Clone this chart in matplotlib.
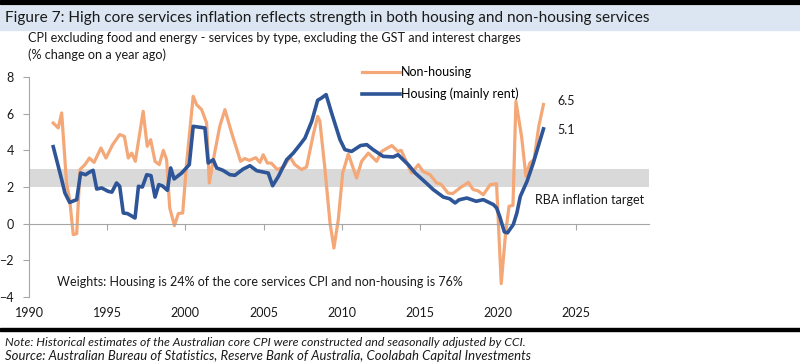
import matplotlib
matplotlib.use("Agg")
import matplotlib.pyplot as plt
from matplotlib.patches import Rectangle

plt.rcParams["font.family"] = ["Lato", "DejaVu Sans"]

# ---- data (year, % change on a year ago)
nonhousing_year = [1991.55, 1991.87, 1992.09, 1992.4, 1992.6, 1992.83, 1993.05, 1993.26,
                   1993.58, 1993.86, 1994.16, 1994.6, 1994.92, 1995.35, 1995.8, 1996.1,
                   1996.35, 1996.57, 1996.8, 1997.3, 1997.56, 1997.78, 1998.06, 1998.33,
                   1998.59, 1998.8, 1999.0, 1999.3, 1999.55, 1999.83, 2000.08, 2000.5,
                   2000.72, 2001.04, 2001.36, 2001.53, 2001.83, 2002.2, 2002.53, 2002.96,
                   2003.53, 2003.8, 2004.09, 2004.5, 2004.77, 2004.98, 2005.24, 2005.5,
                   2005.88, 2006.3, 2006.69, 2007.0, 2007.43, 2007.75, 2008.18, 2008.46,
                   2008.6, 2008.93, 2009.25, 2009.5, 2009.78, 2010.06, 2010.42, 2010.95,
                   2011.27, 2011.7, 2012.23, 2012.55, 2013.2, 2013.6, 2013.8, 2014.47,
                   2014.9, 2015.2, 2015.65, 2016.07, 2016.35, 2016.8, 2017.1, 2017.56,
                   2018.1, 2018.4, 2018.7, 2019.05, 2019.5, 2019.9, 2020.2, 2020.48,
                   2020.7, 2020.95, 2021.14, 2021.5, 2021.78, 2022.03, 2022.3, 2022.6,
                   2022.9]
nonhousing = [5.49, 5.22, 6.04, 2.22, 1.31, -0.6, -0.55, 2.95,
              3.22, 3.58, 3.34, 4.13, 3.58, 4.31, 4.86, 4.76,
              3.58, 3.85, 3.4, 6.13, 4.22, 4.58, 3.4, 3.22,
              4.0, 3.49, 0.86, -0.11, 0.55, 0.58, 3.31, 6.95,
              6.49, 6.22, 5.49, 2.22, 3.67, 5.31, 6.22, 4.95,
              3.4, 3.55, 3.45, 3.6, 3.34, 3.76, 3.31, 3.3,
              2.95, 3.1, 3.64, 3.22, 2.95, 3.09, 4.86, 5.85,
              5.6, 2.95, 0.04, -1.33, 0.22, 2.76, 3.8, 2.49,
              3.4, 3.85, 3.4, 3.94, 4.26, 3.94, 4.0, 2.76,
              3.22, 2.85, 2.67, 2.22, 2.15, 1.67, 1.64, 1.95,
              2.25, 1.86, 1.8, 1.58, 2.13, 2.18, -3.27, -0.5,
              0.95, 1.0, 6.67, 4.76, 2.58, 3.31, 3.5, 5.3,
              6.5]

housing_year = [1991.55, 1992.09, 1992.3, 1992.6, 1993.05, 1993.3, 1993.62, 1993.85,
                1994.1, 1994.33, 1994.65, 1995.07, 1995.3, 1995.6, 1995.8, 1996.03,
                1996.3, 1996.78, 1997.0, 1997.25, 1997.53, 1997.8, 1998.06, 1998.3,
                1998.55, 1998.85, 1999.06, 1999.28, 1999.76, 2000.25, 2000.5, 2001.25,
                2001.46, 2001.78, 2002.0, 2002.4, 2002.85, 2003.17, 2003.7, 2004.13,
                2004.56, 2005.3, 2005.58, 2005.95, 2006.48, 2006.9, 2007.33, 2007.65,
                2008.08, 2008.46, 2008.7, 2009.0, 2009.35, 2009.89, 2010.2, 2010.63,
                2011.2, 2011.6, 2012.0, 2012.65, 2013.3, 2013.6, 2014.25, 2014.7,
                2015.4, 2015.85, 2016.5, 2016.9, 2017.25, 2017.5, 2018.0, 2018.6,
                2019.05, 2019.7, 2019.9, 2020.1, 2020.4, 2020.6, 2020.97, 2021.2,
                2021.42, 2021.85, 2022.25, 2022.9]
housing = [4.2, 2.4, 1.67, 1.16, 1.31, 2.76, 2.67, 2.8,
           2.91, 1.89, 1.95, 1.76, 1.72, 2.22, 2.04, 0.58,
           0.55, 0.31, 2.04, 2.0, 2.67, 2.62, 1.45, 2.13,
           2.05, 1.82, 3.04, 2.44, 2.76, 3.22, 5.31, 5.22,
           3.31, 3.49, 3.04, 2.91, 2.67, 2.64, 2.98, 3.16,
           2.89, 2.76, 2.07, 2.58, 3.49, 3.85, 4.31, 4.67,
           5.58, 6.73, 6.85, 7.04, 6.04, 4.58, 4.04, 3.94,
           4.26, 4.31, 4.04, 3.67, 3.64, 3.76, 3.22, 2.76,
           2.22, 1.86, 1.45, 1.36, 1.13, 1.3, 1.4, 1.22,
           1.31, 1.04, 0.86, 0.4, -0.45, -0.5, -0.05, 0.58,
           1.49, 2.31, 3.31, 5.17]

target_band = (2, 3)
year_ticks = list(range(1990, 2030, 5))
value_ticks = list(range(-4, 10, 2))
last_labels = ["6.5", "5.1"]

ORANGE, BLUE, GREY, BAND, INK = "#f4a877", "#2e5597", "#a6a6a6", "#dce6f2", "#1a1a1a"
W, H = 800, 364

fig = plt.figure(figsize=(W / 100, H / 100), dpi=100)


def fy(y):
    return 1 - y / H


def fit(text, width):
    """Scale a text's font so it spans the given pixel width."""
    renderer = fig.canvas.get_renderer()
    w = text.get_window_extent(renderer).width
    text.set_fontsize(text.get_fontsize() * width / w)


# header band and rules
fig.patches.append(Rectangle((0, fy(3.5)), 1, 3.5 / H, transform=fig.transFigure,
                             color="black", zorder=0))
fig.patches.append(Rectangle((0, fy(30)), 1, 24 / H, transform=fig.transFigure,
                             color=BAND, zorder=0))
fig.patches.append(Rectangle((0, fy(330.5)), 1, 2.5 / H, transform=fig.transFigure,
                             color="black", zorder=0))

title = fig.text(5 / W, fy(18), "Figure 7: High core services inflation reflects strength "
                 "in both housing and non-housing services", fontsize=11, color=INK,
                 va="center", ha="left")
sub1 = fig.text(28 / W, fy(38), "CPI excluding food and energy - services by type, "
                "excluding the GST and interest charges", fontsize=8.5, color=INK,
                va="center")
sub2 = fig.text(28 / W, fy(55), "(% change on a year ago)", fontsize=8.5,
                color=INK, va="center")
note = fig.text(5 / W, fy(342), "Note: Historical estimates of the Australian core CPI "
                "were constructed and seasonally adjusted by CCI.", fontsize=8.5,
                style="italic", color=INK, va="center")
source = fig.text(5 / W, fy(356), "Source: Australian Bureau of Statistics, Reserve Bank "
                  "of Australia, Coolabah Capital Investments", fontsize=8.5,
                  style="italic", color=INK, va="center")

fig.canvas.draw()
fit(title, 647)
fit(sub1, 493)
sub2.set_fontsize(sub1.get_fontsize())
fit(note, 517)
fit(source, 525)

ax = fig.add_axes([29 / W, fy(297), 620 / W, 220 / H])
ax.axhspan(*target_band, color="#d9d9d9", lw=0, zorder=0)
ax.plot(nonhousing_year, nonhousing, color=ORANGE, lw=2.3, label="Non-housing",
        solid_joinstyle="round", zorder=2)
ax.plot(housing_year, housing, color=BLUE, lw=2.6, label="Housing (mainly rent)",
        solid_joinstyle="round", zorder=3)

ax.set_xlim(1990, 2029.65)
ax.set_ylim(-4, 8)
ax.set_xticks(year_ticks)
ax.set_yticks(value_ticks)
ax.spines[["top", "right"]].set_visible(False)
ax.spines["left"].set_color(GREY)
ax.spines["bottom"].set_color(GREY)
ax.spines["bottom"].set_position(("data", 0))
ax.tick_params(axis="both", colors=GREY, labelcolor=INK, labelsize=9, length=4)
ax.tick_params(axis="x", pad=56)
ax.tick_params(axis="y", pad=7)
ax.set_facecolor("none")

ax.legend(loc="upper left", bbox_to_anchor=(362 / W, fy(66)),
          bbox_transform=fig.transFigure, frameon=False, fontsize=9,
          handlelength=3.0, handletextpad=0.15, labelspacing=0.75,
          borderpad=0, borderaxespad=0)

ax.text(2023.8, nonhousing[-1] + 0.2, last_labels[0], fontsize=9, color=INK, va="center")
ax.text(2023.8, housing[-1] - 0.05, last_labels[1], fontsize=9, color=INK, va="center")
ax.text(2022.35, 1.3, "RBA inflation target", fontsize=9, color=INK, va="center")
ax.text(1991.8, -3.2, "Weights: Housing is 24% of the core services CPI and "
        "non-housing is 76%", fontsize=9, color=INK, va="center")

fig.savefig("out.png", dpi=100)
